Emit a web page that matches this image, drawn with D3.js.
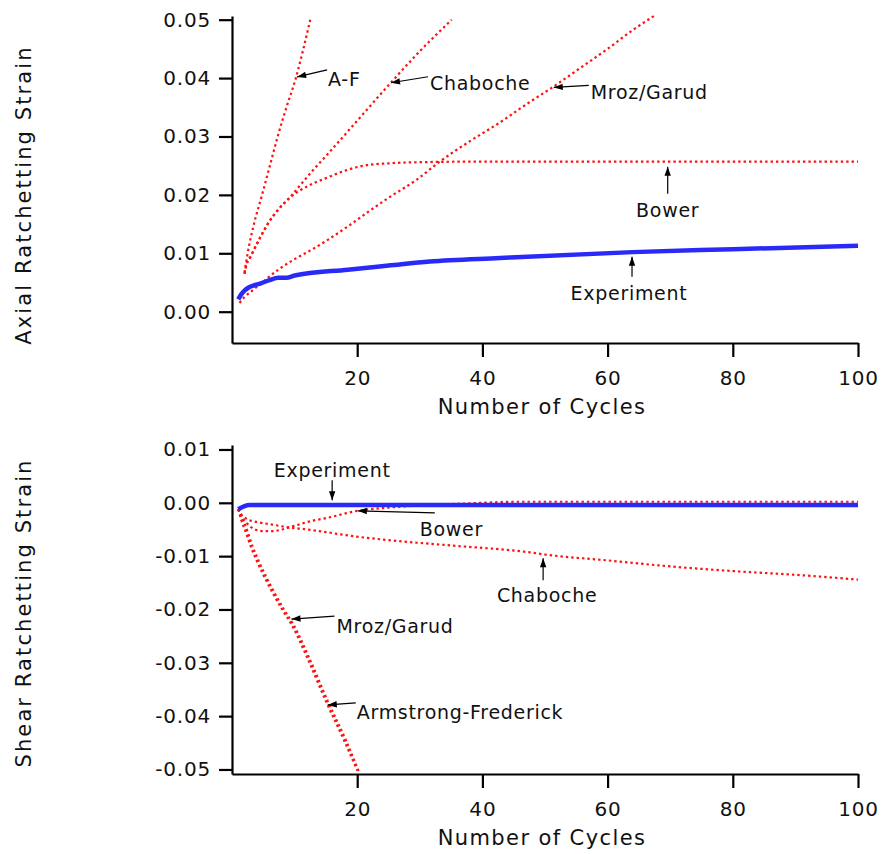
<!DOCTYPE html>
<html>
<head>
<meta charset="utf-8">
<script src="https://cdn.jsdelivr.net/npm/d3@7/dist/d3.min.js"></script>
<style>
  html, body { margin: 0; padding: 0; background: #fff; }
  svg { display: block; }
  text { font-family: "DejaVu Sans", Verdana, sans-serif; fill: #111; }
</style>
</head>
<body>
<svg id="chart" width="881" height="854"></svg>
<script>
// ---- Data: ratchetting strain vs. number of cycles ----
const xTicks = [20, 40, 60, 80, 100];
const axialTicks = [0.00, 0.01, 0.02, 0.03, 0.04, 0.05];
const shearTicks = [0.01, 0.00, -0.01, -0.02, -0.03, -0.04, -0.05];

// Axial strain: [cycle, strain]
const axialExperiment = [[1,0.0021],[1.5,0.0030],[2,0.0036],[2.6,0.0041],[3.5,0.0045],[4.7,0.0049],[6,0.0054],[7.4,0.0058],[8.7,0.0058],[10,0.0062],[18.5,0.0072],[25,0.0079],[31.6,0.0086],[42.8,0.0092],[64,0.0102],[80,0.0107],[100,0.0113]];
const axialAF = [[2,0.0067],[2.5,0.0100],[3.5,0.0150],[4.8,0.0200],[6,0.0248],[7.3,0.0300],[8.7,0.0350],[10.2,0.0400],[11.4,0.0450],[12.5,0.0500]];
const axialChaboche = [[2,0.0065],[2.3,0.0080],[3,0.0095],[4.6,0.0129],[6,0.0155],[7.4,0.0175],[9.2,0.0195],[11,0.0218],[13,0.0243],[15.3,0.0270],[20,0.0327],[25.2,0.0390],[30,0.0446],[35.1,0.0500]];
const axialBower = [[2,0.0065],[2.3,0.0080],[3,0.0095],[4.6,0.0129],[6,0.0155],[7.4,0.0175],[9.2,0.0195],[12.1,0.0215],[15.3,0.0230],[18.2,0.0242],[21,0.0250],[25,0.0254],[30,0.0256],[40,0.0257],[100,0.0257]];
const axialMroz = [[1.2,0.0015],[2,0.0025],[3,0.0034],[4.7,0.0049],[7.4,0.0072],[10,0.0090],[12.7,0.0106],[15.3,0.0123],[18.5,0.0146],[21.5,0.0169],[25,0.0195],[29.5,0.0226],[33.2,0.0257],[38,0.0292],[42.8,0.0324],[47,0.0355],[51.3,0.0385],[56,0.0420],[60,0.0450],[64,0.0482],[67.5,0.0507]];

// Shear strain: [cycle, strain]
const shearExperiment = [[1,-0.0012],[2,-0.0006],[2.8,-0.0004],[10,-0.0004],[50,-0.0004],[100,-0.0004]];
const shearBower = [[1,-0.0012],[1.5,-0.0025],[2.5,-0.0040],[3.5,-0.0049],[5,-0.0053],[6.5,-0.0053],[8,-0.0050],[10,-0.0043],[12.7,-0.0034],[15.3,-0.0028],[19.6,-0.0016],[25,-0.0009],[30,-0.0005],[38,-0.0001],[45.5,0.0002],[100,0.0002]];
const shearChaboche = [[1,-0.0012],[1.5,-0.0022],[2.5,-0.0031],[4,-0.0036],[6,-0.0040],[9,-0.0046],[12,-0.0050],[15,-0.0055],[19,-0.0062],[25,-0.0070],[35,-0.0080],[47.6,-0.0093],[50,-0.0097],[60,-0.0108],[68.8,-0.0118],[80,-0.0128],[90,-0.0135],[100,-0.0144]];
const shearMroz = [[1,-0.0012],[1.5,-0.0033],[2.3,-0.0058],[3,-0.0082],[4,-0.0110],[5,-0.0135],[6,-0.0158],[8,-0.0200],[9.5,-0.0228],[12,-0.0290],[15,-0.0372],[18,-0.0448],[20,-0.0502]];
const shearAF = [[1,-0.0012],[1.8,-0.0033],[2.6,-0.0058],[3.3,-0.0082],[4.3,-0.0110],[5.3,-0.0135],[6.3,-0.0158],[8.3,-0.0200],[9.8,-0.0228],[12.3,-0.0290],[15.3,-0.0372],[18.3,-0.0448],[20.3,-0.0505]];

// Callouts: label and the curve point the arrow points to
const axialNotes = [
  { label: "A-F",        cycle: 10.4, value: 0.0402 },
  { label: "Chaboche",   cycle: 25.4, value: 0.0392 },
  { label: "Mroz/Garud", cycle: 51.4, value: 0.0384 },
  { label: "Bower",      cycle: 69.6, value: 0.0248 },
  { label: "Experiment", cycle: 63.9, value: 0.0094 }
];
const shearNotes = [
  { label: "Experiment",          cycle: 16.0, value: 0.0005 },
  { label: "Bower",               cycle: 20.1, value: -0.0015 },
  { label: "Chaboche",            cycle: 49.7, value: -0.0104 },
  { label: "Mroz/Garud",          cycle: 9.5,  value: -0.0218 },
  { label: "Armstrong-Frederick", cycle: 15.3, value: -0.0379 }
];

// ---- Layout ----
const svg = d3.select("#chart");
const RED = "#ff1010", BLUE = "#2a2af8";
const FONT = '"DejaVu Sans", Verdana, sans-serif';

const x = d3.scaleLinear().domain([0, 100]).range([232, 858]);
const yAxial = d3.scaleLinear().domain([-0.00536, 0.05063]).range([343, 16]);
const yShear = d3.scaleLinear().domain([-0.05085, 0.01084]).range([774, 445]);

// Offsets of arrow tail and label from the arrow tip (px)
const axialLayout = {
  "A-F":        { tail: [30, -7], text: [31, 9],  anchor: "start" },
  "Chaboche":   { tail: [37, -6], text: [39, 7],  anchor: "start" },
  "Mroz/Garud": { tail: [35, -2], text: [37, 12], anchor: "start" },
  "Bower":      { tail: [0, 27],  text: [0, 50],  anchor: "middle" },
  "Experiment": { tail: [0, 20],  text: [-3, 43], anchor: "middle" }
};
const shearLayout = {
  "Experiment":          { tail: [0, -20], text: [0, -23], anchor: "middle" },
  "Bower":               { tail: [77, 2],  text: [62, 25], anchor: "start" },
  "Chaboche":            { tail: [0, 22],  text: [4, 44],  anchor: "middle" },
  "Mroz/Garud":          { tail: [43, -3], text: [45, 14], anchor: "start" },
  "Armstrong-Frederick": { tail: [28, -2], text: [29, 14], anchor: "start" }
};

const fmt = d => d.toFixed(2);

function drawPanel(y, ticks, axisY, title, titleY, modelSeries, expSeries, notes, layout) {
  const g = svg.append("g");

  // axes
  const yAxis = d3.axisLeft(y).tickValues(ticks).tickFormat(fmt).tickSize(13).tickSizeOuter(0).tickPadding(8);
  const xAxis = d3.axisBottom(x).tickValues(xTicks).tickFormat(d3.format("d")).tickSize(14).tickSizeOuter(0).tickPadding(14);

  const ya = g.append("g").attr("transform", `translate(${x.range()[0]},0)`).call(yAxis);
  const xa = g.append("g").attr("transform", `translate(0,${axisY})`).call(xAxis);
  [ya, xa].forEach(a => {
    a.selectAll("path.domain, line").attr("stroke", "#000").attr("stroke-width", 2.2);
    a.selectAll("text")
      .style("font-family", FONT)
      .attr("font-size", 20).attr("letter-spacing", 0.8).attr("fill", "#111");
  });

  // axis titles
  g.append("text")
    .attr("transform", `translate(31,${titleY}) rotate(-90)`)
    .attr("text-anchor", "middle").attr("font-size", 21).attr("letter-spacing", 2.1)
    .text(title);
  g.append("text")
    .attr("x", 542).attr("y", axisY + 71)
    .attr("text-anchor", "middle").attr("font-size", 21).attr("letter-spacing", 1.4)
    .text("Number of Cycles");

  // curves
  const line = d3.line().x(d => x(d[0])).y(d => y(d[1])).curve(d3.curveMonotoneX);
  modelSeries.forEach(s => {
    g.append("path").attr("d", line(s))
      .attr("fill", "none").attr("stroke", RED).attr("stroke-width", 2.2)
      .attr("stroke-dasharray", "2.4,3");
  });
  g.append("path").attr("d", line(expSeries))
    .attr("fill", "none").attr("stroke", BLUE).attr("stroke-width", 4.5)
    .attr("stroke-linejoin", "round");

  // callouts
  notes.forEach(n => {
    const L = layout[n.label];
    const px = x(n.cycle), py = y(n.value);
    const tx = px + L.tail[0], ty = py + L.tail[1];
    g.append("line").attr("x1", tx).attr("y1", ty).attr("x2", px).attr("y2", py)
      .attr("stroke", "#000").attr("stroke-width", 1.2);
    const ang = Math.atan2(py - ty, px - tx);
    const len = 9, hw = 3.2;
    const bx = px - len * Math.cos(ang), by = py - len * Math.sin(ang);
    const nx = -Math.sin(ang) * hw, ny = Math.cos(ang) * hw;
    g.append("path")
      .attr("d", `M${px},${py}L${bx + nx},${by + ny}L${bx - nx},${by - ny}Z`)
      .attr("fill", "#000");
    g.append("text")
      .attr("x", px + L.text[0]).attr("y", py + L.text[1])
      .attr("text-anchor", L.anchor).attr("font-size", 19).attr("letter-spacing", 0.7)
      .text(n.label);
  });
}

drawPanel(yAxial, axialTicks, 343, "Axial Ratchetting Strain", 195,
  [axialAF, axialChaboche, axialBower, axialMroz], axialExperiment, axialNotes, axialLayout);
drawPanel(yShear, shearTicks, 774, "Shear Ratchetting Strain", 613,
  [shearMroz, shearAF, shearChaboche, shearBower], shearExperiment, shearNotes, shearLayout);
</script>
</body>
</html>
